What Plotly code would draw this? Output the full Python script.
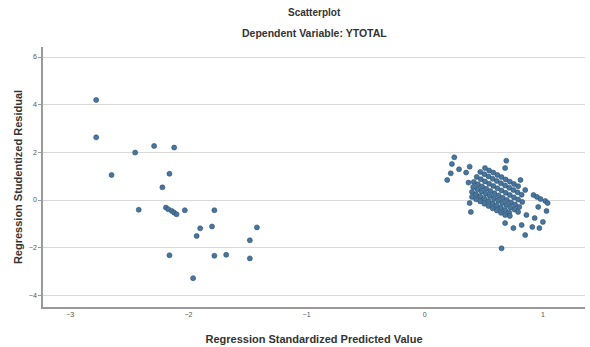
import plotly.graph_objects as go

# Left cluster
left_x = [-2.78, -2.78, -2.45, -2.29, -2.12, -2.65, -2.16, -2.22, -2.42,
          -2.19, -2.17, -2.14, -2.12, -2.10, -2.03, -1.78, -1.90, -1.80,
          -1.93, -1.42, -1.48, -2.16, -1.78, -1.68, -1.48, -1.96]
left_y = [4.20, 2.63, 1.99, 2.27, 2.20, 1.05, 1.10, 0.53, -0.41,
          -0.32, -0.39, -0.46, -0.53, -0.60, -0.43, -0.43, -1.19, -1.11,
          -1.51, -1.15, -1.69, -2.32, -2.34, -2.30, -2.45, -3.28]

# Right cluster (row by row)
right_x = [
    # sparse top / lone bottom
    0.25, 0.23, 0.29, 0.22, 0.19, 0.35, 0.38, 0.37, 0.69, 0.68, 0.81, 0.85, 0.65,
    # row 1
    0.51, 0.545, 0.58, 0.615, 0.65, 0.685, 0.72, 0.755, 0.79,
    # row 2
    0.47, 0.505, 0.54, 0.575, 0.61, 0.645, 0.68, 0.715, 0.75, 0.785, 0.82,
    # row 3
    0.44, 0.475, 0.51, 0.545, 0.58, 0.615, 0.65, 0.685, 0.72, 0.755, 0.79, 0.825,
    # row 4
    0.415, 0.45, 0.485, 0.52, 0.555, 0.59, 0.625, 0.66, 0.695, 0.73, 0.765, 0.80,
    # row 5
    0.41, 0.445, 0.48, 0.515, 0.55, 0.585, 0.62, 0.655, 0.69, 0.725, 0.76,
    # row 6
    0.40, 0.435, 0.47, 0.505, 0.54, 0.575, 0.61, 0.645, 0.68, 0.715,
    # row 7
    0.40, 0.435, 0.47, 0.505, 0.54, 0.575, 0.61, 0.645, 0.68,
    # lower scattered
    0.68, 0.75, 0.82, 0.85, 0.91, 0.97, 0.72, 0.79, 0.86, 0.93, 1.00,
    # right group
    0.92, 0.95, 0.98, 1.02, 1.04, 0.96, 1.03,
    # lower left
    0.38, 0.39,
]
right_y = [
    1.79, 1.51, 1.29, 1.12, 0.84, 1.15, 1.40, 0.73, 1.65, 1.34, 0.84, 0.42, -2.03,
    1.34, 1.24, 1.15, 1.05, 0.96, 0.86, 0.77, 0.67, 0.58,
    1.18, 1.08, 0.99, 0.89, 0.80, 0.70, 0.61, 0.51, 0.42, 0.32, 0.22,
    0.97, 0.87, 0.78, 0.68, 0.59, 0.49, 0.40, 0.30, 0.21, 0.11, 0.02, -0.08,
    0.76, 0.66, 0.57, 0.47, 0.38, 0.28, 0.19, 0.09, 0.00, -0.10, -0.19, -0.29,
    0.55, 0.45, 0.36, 0.26, 0.17, 0.07, -0.02, -0.12, -0.21, -0.31, -0.40,
    0.34, 0.24, 0.15, 0.05, -0.04, -0.14, -0.23, -0.33, -0.42, -0.52,
    0.13, 0.03, -0.06, -0.16, -0.25, -0.35, -0.44, -0.54, -0.63,
    -0.97, -1.18, -1.05, -1.47, -1.13, -1.18, -0.67, -0.50, -0.63, -0.76, -0.92,
    0.21, 0.13, 0.04, -0.04, -0.13, -0.29, -0.46,
    -0.13, -0.50,
]

x_vals = left_x + right_x
y_vals = left_y + right_y

x_ticks = [-3, -2, -1, 0, 1]
y_ticks = [-4, -2, 0, 2, 4, 6]

fig = go.Figure(go.Scatter(
    x=x_vals, y=y_vals, mode="markers", hoverinfo="skip",
    marker=dict(size=5, color="#4677a1", line=dict(color="#2f4d69", width=0.6)),
))

fig.update_layout(
    width=590, height=347,
    margin=dict(l=43, r=5, t=47, b=40),
    paper_bgcolor="white", plot_bgcolor="white",
    showlegend=False, hovermode=False,
    font=dict(family="Liberation Sans, Arial, sans-serif", color="#333"),
    annotations=[
        dict(text="<b>Scatterplot</b>", xref="paper", yref="paper", x=0.5, y=1,
             yanchor="middle", yshift=35, showarrow=False,
             font=dict(size=10, color="#333")),
        dict(text="<b>Dependent Variable: YTOTAL</b>", xref="paper", yref="paper",
             x=0.5, y=1, yanchor="middle", yshift=14, showarrow=False,
             font=dict(size=10.5, color="#333")),
    ],
)
fig.update_xaxes(
    range=[-3.23, 1.356], tickvals=x_ticks, showgrid=False, zeroline=False,
    showline=True, linecolor="#999", linewidth=1.5, ticks="", automargin=False,
    tickfont=dict(size=7, color="#555"),
    title=dict(text="<b>Regression Standardized Predicted Value</b>",
               font=dict(size=11, color="#333"), standoff=18),
)
fig.update_yaxes(
    range=[-4.49, 6.42], tickvals=y_ticks, showgrid=True, gridcolor="#d9d9d9",
    gridwidth=1, zeroline=False, showline=True, linecolor="#999", linewidth=1.5,
    ticks="outside", ticklen=3, tickcolor="#999", automargin=False,
    tickfont=dict(size=7, color="#555"),
    title=dict(text="<b>Regression Studentized Residual</b>",
               font=dict(size=11, color="#333"), standoff=4),
)

fig.write_html("out.html", config={"displayModeBar": False},
               post_script="document.body.style.margin='0';")
